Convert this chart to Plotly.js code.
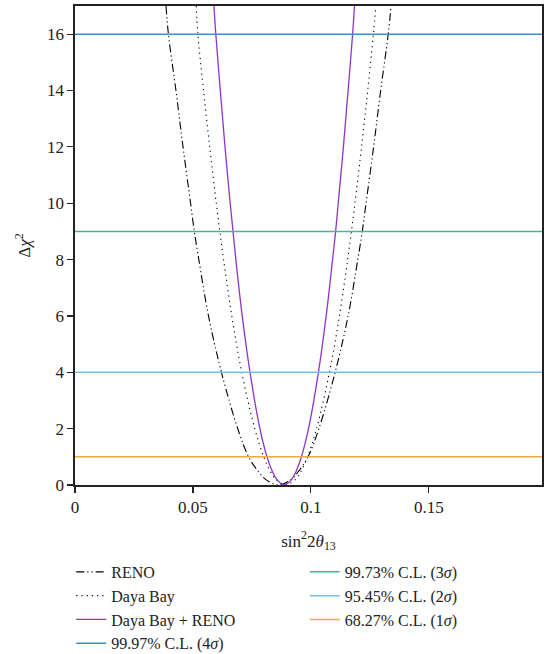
<!DOCTYPE html>
<html>
<head>
<meta charset="utf-8">
<script src="https://cdn.plot.ly/plotly-3.0.1.min.js"></script>
<style>html,body{margin:0;padding:0;background:#fff;}#chart{width:551px;height:654px;}</style>
</head>
<body>
<div id="chart"></div>
<script>
// Δχ² curves (x = sin²2θ13, y = Δχ²)
const renoX = [0.0386, 0.0396, 0.0428, 0.0458, 0.0490, 0.0506, 0.0525, 0.0566, 0.0621, 0.0690, 0.0736, 0.0775, 0.0808, 0.0862, 0.0916, 0.0949, 0.0988, 0.1034, 0.1103, 0.1158, 0.1199, 0.1218, 0.1234, 0.1266, 0.1296, 0.1328, 0.1340];
const renoY = [17, 16, 14, 12, 10, 9, 8, 6, 4, 2, 1, 0.5, 0.2, 0, 0.2, 0.5, 1, 2, 4, 6, 8, 9, 10, 12, 14, 16, 17];

const dayaX = [0.0514, 0.0521, 0.0545, 0.0571, 0.0599, 0.0614, 0.0630, 0.0665, 0.0707, 0.0762, 0.0800, 0.0827, 0.0851, 0.0893, 0.0935, 0.0959, 0.0986, 0.1024, 0.1079, 0.1121, 0.1156, 0.1172, 0.1187, 0.1215, 0.1241, 0.1265, 0.1276];
const dayaY = [17, 16, 14, 12, 10, 9, 8, 6, 4, 2, 1, 0.5, 0.2, 0, 0.2, 0.5, 1, 2, 4, 6, 8, 9, 10, 12, 14, 16, 17];

const combX = [0.0589, 0.0597, 0.0616, 0.0636, 0.0658, 0.0670, 0.0682, 0.0709, 0.0742, 0.0784, 0.0814, 0.0836, 0.0855, 0.0887, 0.0919, 0.0938, 0.0960, 0.0990, 0.1032, 0.1065, 0.1092, 0.1105, 0.1116, 0.1138, 0.1158, 0.1177, 0.1185];
const combY = [17, 16, 14, 12, 10, 9, 8, 6, 4, 2, 1, 0.5, 0.2, 0, 0.2, 0.5, 1, 2, 4, 6, 8, 9, 10, 12, 14, 16, 17];

// confidence-level lines
const clNames = ["99.97% C.L. (4<i>σ</i>)", "99.73% C.L. (3<i>σ</i>)", "95.45% C.L. (2<i>σ</i>)", "68.27% C.L. (1<i>σ</i>)"];
const clLevels = [16, 9, 4, 1];
const clColors = ["#3b8ed6", "#4cb391", "#72c2ef", "#eeaa38"];

const xRange = [0, 0.198];
const xTickVals = [0, 0.05, 0.1, 0.15];
const xTickText = ["0", "0.05", "0.1", "0.15"];
const yTickVals = [0, 2, 4, 6, 8, 10, 12, 14, 16];

const FONT = "Liberation Serif, Times New Roman, serif";

const traces = [
  {x: renoX, y: renoY, name: "RENO", mode: "lines", line: {color: "#000", width: 1.1, dash: "8px,3px,1.2px,3px,1.2px,3px", shape: "spline", smoothing: 1}, legend: "legend"},
  {x: dayaX, y: dayaY, name: "Daya Bay", mode: "lines", line: {color: "#000", width: 1.1, dash: "1.2px,4px", shape: "spline", smoothing: 1}, legend: "legend"},
  {x: combX, y: combY, name: "Daya Bay + RENO", mode: "lines", line: {color: "#8e35c8", width: 1.3, shape: "spline", smoothing: 1}, legend: "legend"}
];
clLevels.forEach((lv, i) => {
  traces.push({
    x: xRange, y: [lv, lv], name: clNames[i], mode: "lines",
    line: {color: clColors[i], width: 1.5},
    legend: i === 0 ? "legend" : "legend2"
  });
});

const legendCommon = {
  orientation: "v", bgcolor: "rgba(0,0,0,0)", borderwidth: 0,
  font: {family: FONT, size: 16, color: "#222"},
  xanchor: "left", yanchor: "top", traceorder: "normal", itemwidth: 30, tracegroupgap: 0
};

const layout = {
  width: 551, height: 654,
  margin: {l: 75, r: 9, t: 6, b: 169, autoexpand: false},
  paper_bgcolor: "#fff", plot_bgcolor: "#fff",
  font: {family: FONT, size: 17, color: "#222"},
  showlegend: true,
  xaxis: {
    range: xRange, tickvals: xTickVals, ticktext: xTickText,
    ticks: "outside", ticklen: 6, tickwidth: 1.2, tickcolor: "#222",
    showline: true, linecolor: "#222", linewidth: 1.6, mirror: true,
    showgrid: false, zeroline: false,
    tickfont: {family: FONT, size: 17, color: "#222"},
    title: {text: "sin<sup>2</sup>2<i>θ</i><sub>13</sub>", font: {family: FONT, size: 17, color: "#222"}}
  },
  yaxis: {
    range: [0, 17], tickvals: yTickVals,
    ticks: "outside", ticklen: 6, tickwidth: 1.2, tickcolor: "#222",
    showline: true, linecolor: "#222", linewidth: 1.6, mirror: true,
    showgrid: false, zeroline: false,
    tickfont: {family: FONT, size: 17, color: "#222"},
    title: {text: "Δ<i>χ</i><sup>2</sup>", font: {family: FONT, size: 17, color: "#222"}}
  },
  legend: Object.assign({}, legendCommon, {x: -0.008, y: -0.146}),
  legend2: Object.assign({}, legendCommon, {x: 0.492, y: -0.146})
};

Plotly.newPlot("chart", traces, layout, {displayModeBar: false, staticPlot: true});
</script>
</body>
</html>
